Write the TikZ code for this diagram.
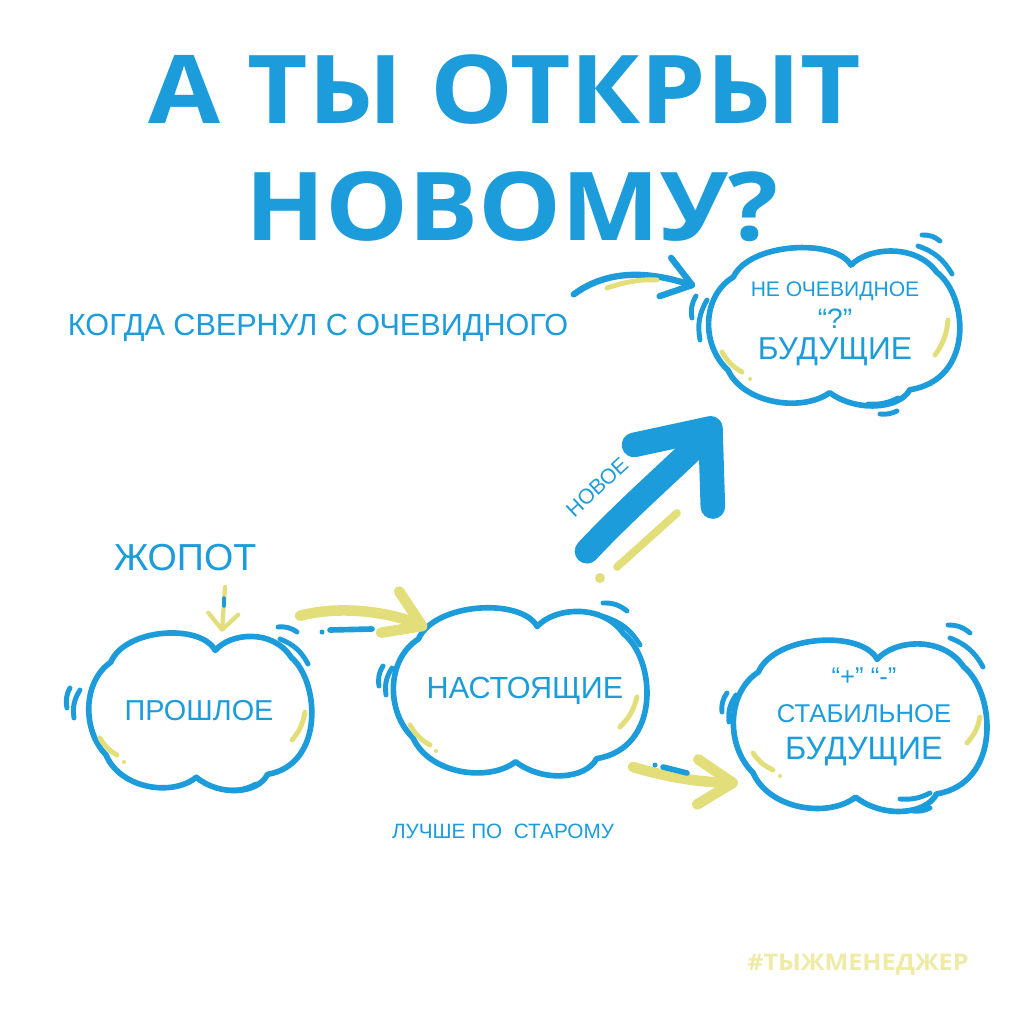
\documentclass[tikz,border=0pt]{standalone}
\usepackage{fontspec}
\setmainfont{Liberation Sans}
\newfontfamily\titlefont[FakeStretch=1.1]{Open Sans}
\newfontfamily\handfont{Liberation Sans}
\usetikzlibrary{arrows.meta}
\definecolor{skyblue}{HTML}{1C9CDB}
\definecolor{chalk}{HTML}{E2DE7A}
\definecolor{tagyellow}{HTML}{EEEBA6}

\begin{document}
\begin{tikzpicture}[x=0.01cm,y=-0.01cm,>=Latex]
  \tikzset{
    spot/.style={align=center, text=skyblue, font=\handfont, inner sep=0pt},
    rimline/.style={draw=skyblue, line width=1.6pt, line join=round, line cap=round},
    rim/.pic={\draw[rimline] (15,-62) .. controls (30,-80) and (75,-85) .. (95,-55)
       .. controls (125,-30) and (130,55) .. (70,65) .. controls (60,85) and (20,88) .. (-5,68)
       .. controls (-30,88) and (-85,80) .. (-100,45) .. controls (-125,20) and (-125,-30) .. (-95,-50)
       .. controls (-80,-85) and (0,-90) .. cycle;},
    hand/.style={text=skyblue, font=\handfont, inner sep=0pt},
    swoosh/.style={draw=skyblue, line width=1.4pt, line cap=round},
    shine/.style={draw=chalk, line width=1.4pt, line cap=round},
    tick/.style={draw=skyblue, line width=1.6pt, line cap=round},
    ylink/.style={draw=chalk, line width=3pt, line cap=round, -{Straight Barb[length=3.5mm,width=4.5mm,round]}},
    blink/.style={draw=skyblue, line width=1.8pt, line cap=round, -{Straight Barb[length=2.8mm,width=4mm,round]}},
    bigjump/.style={draw=skyblue, line width=7pt, line cap=round, -{Straight Barb[length=6mm,width=10mm,round]}}
  }
  \fill[white] (0,0) rectangle (1024,1024);
  \useasboundingbox (0,0) rectangle (1024,1024);

  % title
  \node[anchor=base, text=skyblue, font=\titlefont\bfseries\fontsize{27}{30}\selectfont] (head1) at (505,123) {А ТЫ ОТКРЫТ};
  \node[anchor=base, text=skyblue, font=\titlefont\bfseries\fontsize{27}{30}\selectfont] (head2) at (512,240) {НОВОМУ?};

  % clouds
  \node[spot, minimum width=2.5cm, minimum height=1.58cm, font=\handfont\fontsize{6}{9}\selectfont] (fut) at (835,324)
    {НЕ ОЧЕВИДНОЕ\\{\fontsize{8}{9}\selectfont “?”}\\{\fontsize{9}{9}\selectfont БУДУЩИЕ}};
  \pic[xscale=1.07, yscale=0.98] at (835,326) {rim};
  \node[spot, minimum width=2.23cm, minimum height=1.57cm, font=\handfont\fontsize{8.2}{10}\selectfont] (past) at (199,711) {ПРОШЛОЕ};
  \pic[xscale=0.95, yscale=0.975] at (201,711) {rim};
  \node[spot, minimum width=2.53cm, minimum height=1.68cm, font=\handfont\fontsize{8.7}{10}\selectfont] (now) at (525,691) {НАСТОЯЩИЕ};
  \pic[xscale=1.08, yscale=1.04] at (521,691) {rim};
  \node[spot, minimum width=2.53cm, minimum height=1.7cm, font=\handfont\fontsize{7.3}{10.5}\selectfont] (stab) at (864,717)
    {“+” “-”\\СТАБИЛЬНОЕ\\{\fontsize{9.2}{10.5}\selectfont БУДУЩИЕ}};
  \pic[xscale=1.08, yscale=1.06] at (861,725) {rim};

  % loose labels
  \node[hand, anchor=base, font=\handfont\fontsize{8.7}{10}\selectfont] (turn) at (318,335) {КОГДА СВЕРНУЛ С ОЧЕВИДНОГО};
  \node[hand, anchor=base, font=\handfont\fontsize{10.7}{12}\selectfont] (jopot) at (185,570) {ЖОПОТ};
  \node[hand, anchor=base, font=\handfont\fontsize{5.9}{7}\selectfont] (old) at (503,838) {ЛУЧШЕ ПО\ \ СТАРОМУ};
  \node[hand, rotate=43, font=\handfont\fontsize{6}{7}\selectfont] (newword) at (597,487) {НОВОЕ};
  \node[anchor=base, text=tagyellow, font=\titlefont\bfseries\fontsize{6.5}{8}\selectfont] (tag) at (858,970) {\#ТЫЖМЕНЕДЖЕР};

  % connectors
  \draw[blink] ([shift={(5,-33)}]turn.east) .. controls (615,264) and (662,276) .. ([shift={(-14,-38)}]fut.west);
  \draw[shine] (607,288) .. controls (625,282) and (640,279) .. (657,280);

  \draw[bigjump] ([shift={(62,-55)}]now.north) .. controls (630,505) and (692,452) .. ([shift={(-117,15)}]fut.south);
  \draw[chalk, line width=2.2pt, line cap=round] (617,567) -- (677,513);
  \fill[chalk] (600,578) circle (5);

  \draw[ylink] ([shift={(101,-16)}]past.north) .. controls (340,605) and (390,612) .. ([shift={(-98,22)}]now.north);
  \fill[skyblue] (322,632) circle (2.5);
  \draw[tick] (330,630) -- (372,629);

  \draw[ylink] ([shift={(108,76)}]now.center) .. controls (670,778) and (700,782) .. ([shift={(-126,66)}]stab.center);
  \fill[skyblue] (655,765) circle (2.5);
  \draw[tick] (663,767) -- (687,773);

  \draw[draw=chalk, line width=1.2pt, line cap=round, -{Straight Barb[length=1.6mm,width=3mm,round]}] ([shift={(40,17)}]jopot.base) -- ([shift={(23,0)}]past.north);
  \draw[tick, line width=1pt] (224,598) -- (224,606);

  % swooshes round the clouds
  \draw[swoosh] (922,235) to[bend left=20] (940,241);
  \draw[swoosh] (918,246) to[bend left=20] (952,274);
  \draw[swoosh] (696,296) to[bend right=20] (692,318);
  \draw[swoosh] (707,300) to[bend right=20] (700,340);
  \draw[swoosh] (868,404) to[bend right=15] (898,398);
  \draw[swoosh] (880,414) to[bend right=15] (897,411);

  \draw[swoosh] (278,627) to[bend left=20] (297,632);
  \draw[swoosh] (280,639) to[bend left=20] (308,664);
  \draw[swoosh] (70,688) to[bend right=20] (67,708);
  \draw[swoosh] (80,690) to[bend right=20] (74,718);
  \draw[swoosh] (228,790) to[bend right=15] (256,784);

  \draw[swoosh] (603,603) to[bend left=20] (627,611);
  \draw[swoosh] (605,617) to[bend left=20] (640,645);
  \draw[swoosh] (383,666) to[bend right=20] (379,686);
  \draw[swoosh] (392,668) to[bend right=20] (386,695);

  \draw[swoosh] (948,625) to[bend left=20] (970,633);
  \draw[swoosh] (950,638) to[bend left=20] (983,667);
  \draw[swoosh] (727,693) to[bend right=20] (722,712);
  \draw[swoosh] (736,695) to[bend right=20] (729,722);
  \draw[swoosh] (900,799) to[bend right=15] (930,793);
  \draw[swoosh] (913,811) to[bend right=15] (930,808);

  % chalk shines inside the clouds
  \draw[shine] (948,320) to[bend left=15] (935,355);
  \draw[shine] (722,352) to[bend right=15] (742,372);
  \fill[chalk] (750,379) circle (2);
  \draw[shine] (305,712) to[bend left=15] (292,740);
  \draw[shine] (100,738) to[bend right=15] (117,755);
  \fill[chalk] (124,762) circle (2);
  \draw[shine] (637,697) to[bend left=15] (620,727);
  \draw[shine] (410,725) to[bend right=15] (430,745);
  \fill[chalk] (436,751) circle (2);
  \draw[shine] (980,717) to[bend left=15] (967,743);
  \draw[shine] (753,753) to[bend right=15] (773,770);
  \fill[chalk] (780,776) circle (2);
\end{tikzpicture}
\end{document}
